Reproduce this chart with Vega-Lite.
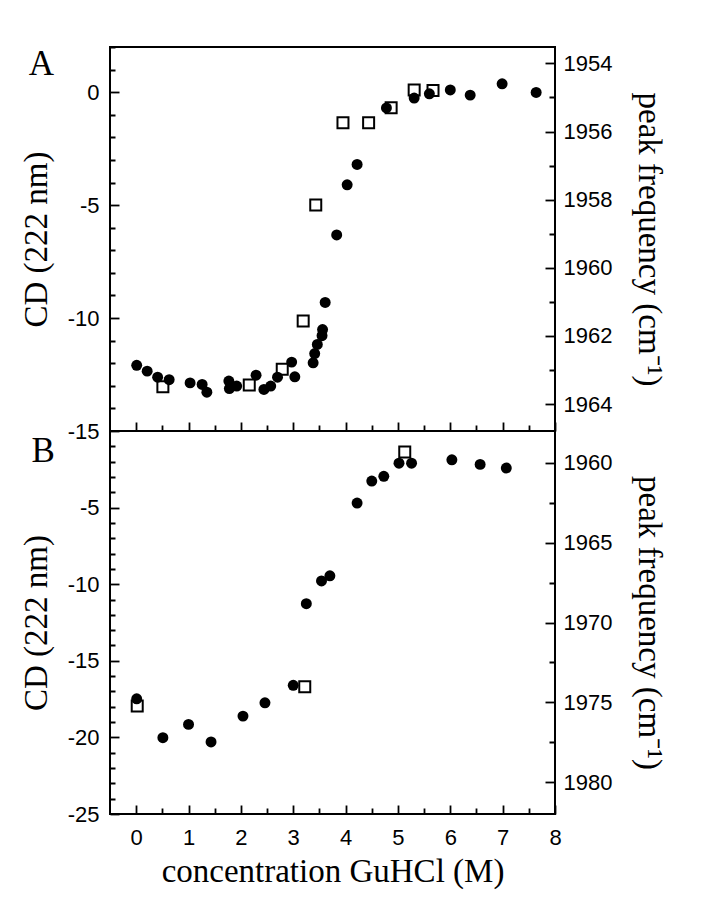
{
 "$schema": "https://vega.github.io/schema/vega-lite/v6.json",
 "padding": {"left": 19, "top": 35, "right": 5, "bottom": 5},
 "background": "white",
 "spacing": 0,
 "bounds": "flush",
 "config": {
   "view": {"stroke": "black", "strokeWidth": 2},
   "axis": {"grid": false, "domain": false, "tickColor": "black", "tickWidth": 1.8, "labelFont": "Liberation Sans", "labelFontSize": 22, "labelColor": "black", "titleFont": "Liberation Serif", "titleFontSize": 33, "titleFontWeight": "normal", "titleColor": "black", "labelFlush": false, "labelOverlap": false}
 },
 "datasets": {
   "A_cd": [
     {"conc": 0.01, "cd": -12.09}, {"conc": 0.21, "cd": -12.35}, {"conc": 0.41, "cd": -12.62}, {"conc": 0.63, "cd": -12.73},
     {"conc": 1.03, "cd": -12.87}, {"conc": 1.26, "cd": -12.94}, {"conc": 1.35, "cd": -13.28}, {"conc": 1.77, "cd": -12.79},
     {"conc": 1.78, "cd": -13.12}, {"conc": 1.92, "cd": -13.01}, {"conc": 2.29, "cd": -12.53}, {"conc": 2.44, "cd": -13.16},
     {"conc": 2.57, "cd": -13.01}, {"conc": 2.70, "cd": -12.62}, {"conc": 2.97, "cd": -11.95}, {"conc": 3.03, "cd": -12.6},
     {"conc": 3.38, "cd": -11.98}, {"conc": 3.41, "cd": -11.57}, {"conc": 3.46, "cd": -11.17}, {"conc": 3.55, "cd": -10.78},
     {"conc": 3.56, "cd": -10.51}, {"conc": 3.61, "cd": -9.31}, {"conc": 3.83, "cd": -6.32}, {"conc": 4.03, "cd": -4.10},
     {"conc": 4.22, "cd": -3.2}, {"conc": 4.78, "cd": -0.70}, {"conc": 5.31, "cd": -0.26}, {"conc": 5.60, "cd": -0.07},
     {"conc": 6.0, "cd": 0.10}, {"conc": 6.38, "cd": -0.13}, {"conc": 6.99, "cd": 0.37}, {"conc": 7.64, "cd": -0.01}
   ],
   "A_peak": [
     {"conc": 0.51, "peak": 1963.49}, {"conc": 2.16, "peak": 1963.44}, {"conc": 2.79, "peak": 1962.98}, {"conc": 3.19, "peak": 1961.56},
     {"conc": 3.43, "peak": 1958.16}, {"conc": 3.95, "peak": 1955.74}, {"conc": 4.44, "peak": 1955.74}, {"conc": 4.87, "peak": 1955.30},
     {"conc": 5.31, "peak": 1954.78}, {"conc": 5.67, "peak": 1954.80}
   ],
   "B_cd": [
     {"conc": 0.01, "cd": -17.48}, {"conc": 0.51, "cd": -20.02}, {"conc": 1.0, "cd": -19.15}, {"conc": 1.43, "cd": -20.3},
     {"conc": 2.04, "cd": -18.61}, {"conc": 2.46, "cd": -17.74}, {"conc": 3.0, "cd": -16.6}, {"conc": 3.25, "cd": -11.27},
     {"conc": 3.54, "cd": -9.79}, {"conc": 3.70, "cd": -9.45}, {"conc": 4.22, "cd": -4.70}, {"conc": 4.50, "cd": -3.27},
     {"conc": 4.73, "cd": -2.96}, {"conc": 5.02, "cd": -2.10}, {"conc": 5.26, "cd": -2.10}, {"conc": 6.03, "cd": -1.88},
     {"conc": 6.57, "cd": -2.18}, {"conc": 7.07, "cd": -2.42}
   ],
   "B_peak": [
     {"conc": 0.02, "peak": 1975.24}, {"conc": 3.22, "peak": 1974.03}, {"conc": 5.13, "peak": 1959.31}
   ]
 },
 "vconcat": [
  {
   "width": 445, "height": 384,
   "layer": [
     {"data": {"name": "A_peak"},
      "mark": {"type": "point", "shape": "square", "filled": false, "stroke": "black", "strokeWidth": 2, "size": 121, "opacity": 1},
      "encoding": {
        "x": {"field": "conc", "type": "quantitative", "scale": {"domain": [-0.5, 8], "nice": false, "zero": false},
              "axis": {"orient": "bottom", "values": [0,0.5,1,1.5,2,2.5,3,3.5,4,4.5,5,5.5,6,6.5,7,7.5,8], "labels": false, "title": null, "tickSize": 9, "offset": -9, "tickDash": {"condition": {"test": "datum.value % 1 === 0", "value": []}, "value": [0, 3, 6, 100]}}},
        "y": {"field": "peak", "type": "quantitative", "scale": {"domain": [1953.52, 1964.79], "reverse": true, "nice": false, "zero": false},
              "axis": {"orient": "right", "title": "peak frequency (cm⁻¹)", "values": [1954,1955,1956,1957,1958,1959,1960,1961,1962,1963,1964], "labelExpr": "datum.value % 2 === 0 ? '' + datum.value : ''", "tickSize": 10, "offset": -10, "tickDash": {"condition": {"test": "datum.value % 2 === 0", "value": []}, "value": [0, 4, 6, 100]}, "labelPadding": 8, "titlePadding": 20}}
      }},
     {"layer": [
       {"data": {"name": "A_cd"},
        "mark": {"type": "circle", "size": 120, "color": "black", "opacity": 1},
        "encoding": {
          "x": {"field": "conc", "type": "quantitative", "scale": {"domain": [-0.5, 8], "nice": false, "zero": false},
                "axis": {"orient": "bottom", "values": [0,0.5,1,1.5,2,2.5,3,3.5,4,4.5,5,5.5,6,6.5,7,7.5,8], "labels": false, "title": null, "tickSize": 9, "offset": -9, "tickDash": {"condition": {"test": "datum.value % 1 === 0", "value": []}, "value": [0, 3, 6, 100]}}},
          "y": {"field": "cd", "type": "quantitative", "scale": {"domain": [-15, 2], "nice": false, "zero": false},
                "axis": {"orient": "left", "title": "CD (222 nm)", "values": [-15,-14,-13,-12,-11,-10,-9,-8,-7,-6,-5,-4,-3,-2,-1,0,1,2], "labelExpr": "datum.value % 5 === 0 ? '' + datum.value : ''", "tickSize": 9, "offset": -9, "tickDash": {"condition": {"test": "datum.value % 5 === 0", "value": []}, "value": [0, 4, 5, 100]}, "labelPadding": 11, "titlePadding": 14}}
        }},
       {"data": {"values": [{}]},
        "mark": {"type": "text", "font": "Liberation Serif", "fontSize": 35, "align": "left", "baseline": "alphabetic", "color": "black"},
        "encoding": {
          "x": {"datum": -2.05, "type": "quantitative", "scale": {"domain": [-0.5, 8], "nice": false, "zero": false},
                "axis": {"orient": "bottom", "values": [0,0.5,1,1.5,2,2.5,3,3.5,4,4.5,5,5.5,6,6.5,7,7.5,8], "labels": false, "title": null, "tickSize": 9, "offset": -9, "tickDash": {"condition": {"test": "datum.value % 1 === 0", "value": []}, "value": [0, 3, 6, 100]}}},
          "y": {"datum": 0.74, "type": "quantitative", "scale": {"domain": [-15, 2], "nice": false, "zero": false},
                "axis": {"orient": "left", "title": "CD (222 nm)", "values": [-15,-14,-13,-12,-11,-10,-9,-8,-7,-6,-5,-4,-3,-2,-1,0,1,2], "labelExpr": "datum.value % 5 === 0 ? '' + datum.value : ''", "tickSize": 9, "offset": -9, "tickDash": {"condition": {"test": "datum.value % 5 === 0", "value": []}, "value": [0, 4, 5, 100]}, "labelPadding": 11, "titlePadding": 14}},
          "text": {"value": "A"}
        }}
     ]}
   ],
   "resolve": {"scale": {"y": "independent"}}
  },
  {
   "width": 445, "height": 383,
   "layer": [
     {"data": {"name": "B_peak"},
      "mark": {"type": "point", "shape": "square", "filled": false, "stroke": "black", "strokeWidth": 2, "size": 121, "opacity": 1},
      "encoding": {
        "x": {"field": "conc", "type": "quantitative", "scale": {"domain": [-0.5, 8], "nice": false, "zero": false},
              "axis": {"orient": "bottom", "values": [0,0.5,1,1.5,2,2.5,3,3.5,4,4.5,5,5.5,6,6.5,7,7.5,8], "labelExpr": "datum.value % 1 === 0 ? '' + datum.value : ''", "title": "concentration GuHCl (M)", "tickSize": 9, "offset": -9, "tickDash": {"condition": {"test": "datum.value % 1 === 0", "value": []}, "value": [0, 3, 6, 100]}, "labelPadding": 13, "titlePadding": 7}},
        "y": {"field": "peak", "type": "quantitative", "scale": {"domain": [1958, 1982], "reverse": true, "nice": false, "zero": false},
              "axis": {"orient": "right", "title": "peak frequency (cm⁻¹)", "values": [1960,1962.5,1965,1967.5,1970,1972.5,1975,1977.5,1980], "labelExpr": "datum.value % 5 === 0 ? '' + datum.value : ''", "tickSize": 10, "offset": -10, "tickDash": {"condition": {"test": "datum.value % 5 === 0", "value": []}, "value": [0, 4, 6, 100]}, "labelPadding": 8, "titlePadding": 20}}
      }},
     {"layer": [
       {"data": {"name": "B_cd"},
        "mark": {"type": "circle", "size": 120, "color": "black", "opacity": 1},
        "encoding": {
          "x": {"field": "conc", "type": "quantitative", "scale": {"domain": [-0.5, 8], "nice": false, "zero": false},
                "axis": {"orient": "bottom", "values": [0,0.5,1,1.5,2,2.5,3,3.5,4,4.5,5,5.5,6,6.5,7,7.5,8], "labelExpr": "datum.value % 1 === 0 ? '' + datum.value : ''", "title": "concentration GuHCl (M)", "tickSize": 9, "offset": -9, "tickDash": {"condition": {"test": "datum.value % 1 === 0", "value": []}, "value": [0, 3, 6, 100]}, "labelPadding": 13, "titlePadding": 7}},
          "y": {"field": "cd", "type": "quantitative", "scale": {"domain": [-25, 0], "nice": false, "zero": false},
                "axis": {"orient": "left", "title": "CD (222 nm)", "values": [-25,-24,-23,-22,-21,-20,-19,-18,-17,-16,-15,-14,-13,-12,-11,-10,-9,-8,-7,-6,-5,-4,-3,-2,-1], "labelExpr": "datum.value % 5 === 0 ? '' + datum.value : ''", "tickSize": 9, "offset": -9, "tickDash": {"condition": {"test": "datum.value % 5 === 0", "value": []}, "value": [0, 4, 5, 100]}, "labelPadding": 11, "titlePadding": 14}}
        }},
       {"data": {"values": [{}]},
        "mark": {"type": "text", "font": "Liberation Serif", "fontSize": 35, "align": "left", "baseline": "alphabetic", "color": "black"},
        "encoding": {
          "x": {"datum": -2.0, "type": "quantitative", "scale": {"domain": [-0.5, 8], "nice": false, "zero": false},
                "axis": {"orient": "bottom", "values": [0,0.5,1,1.5,2,2.5,3,3.5,4,4.5,5,5.5,6,6.5,7,7.5,8], "labelExpr": "datum.value % 1 === 0 ? '' + datum.value : ''", "title": "concentration GuHCl (M)", "tickSize": 9, "offset": -9, "tickDash": {"condition": {"test": "datum.value % 1 === 0", "value": []}, "value": [0, 3, 6, 100]}, "labelPadding": 13, "titlePadding": 7}},
          "y": {"datum": -2.03, "type": "quantitative", "scale": {"domain": [-25, 0], "nice": false, "zero": false},
                "axis": {"orient": "left", "title": "CD (222 nm)", "values": [-25,-24,-23,-22,-21,-20,-19,-18,-17,-16,-15,-14,-13,-12,-11,-10,-9,-8,-7,-6,-5,-4,-3,-2,-1], "labelExpr": "datum.value % 5 === 0 ? '' + datum.value : ''", "tickSize": 9, "offset": -9, "tickDash": {"condition": {"test": "datum.value % 5 === 0", "value": []}, "value": [0, 4, 5, 100]}, "labelPadding": 11, "titlePadding": 14}},
          "text": {"value": "B"}
        }}
     ]}
   ],
   "resolve": {"scale": {"y": "independent"}}
  }
 ]
}
